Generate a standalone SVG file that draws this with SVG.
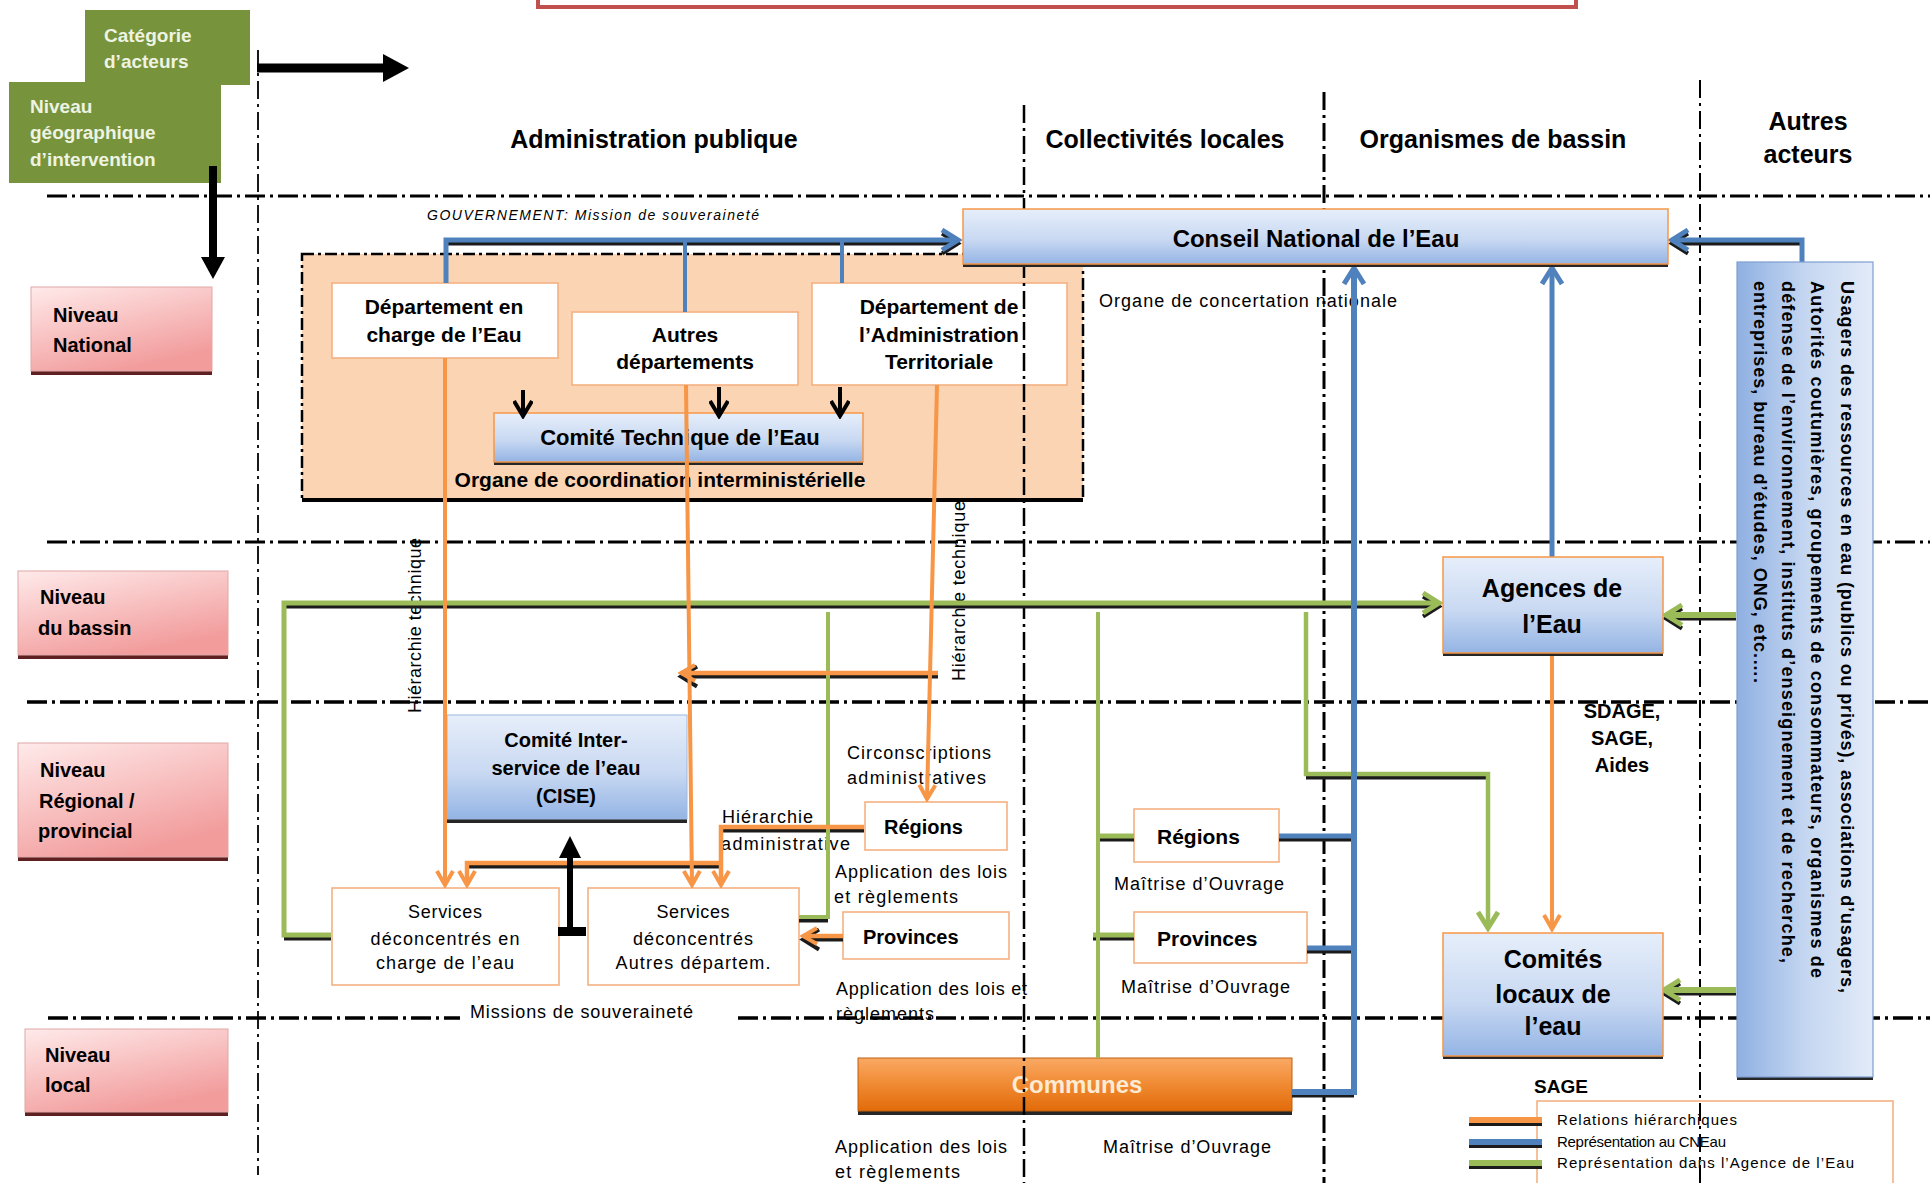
<svg xmlns="http://www.w3.org/2000/svg" width="1930" height="1183" viewBox="0 0 1930 1183">
<defs>
<style>
.b{font-family:"Liberation Sans",Arial,sans-serif;font-weight:bold;fill:#000}
.r{font-family:"Liberation Sans",Arial,sans-serif;fill:#000}
.c{text-anchor:middle}
.hw{font-family:"Liberation Sans",Arial,sans-serif;font-weight:bold;fill:#EEF3E2;font-size:19px}
.wb{fill:#fff;stroke:#F4B183;stroke-width:1.6}
.bn{fill:url(#gBlue);stroke:#F79646;stroke-width:1.5}
.pk{fill:url(#gPink);stroke:#E0A8A8;stroke-width:1}
.pks{fill:#5E2020}
.bs{fill:#262626}
.hg{fill:none;stroke:#000;stroke-width:3;stroke-dasharray:20 5 3 5}
.vg{fill:none;stroke:#000;stroke-width:2.5;stroke-dasharray:18 5 3 5}
.or{fill:none;stroke:#F79646;stroke-width:4.5}
.bl{fill:none;stroke:#4F81BD;stroke-width:5}
.gr{fill:none;stroke:#9BBB59;stroke-width:5}
.sh{fill:none;stroke:#1b1b1b;stroke-width:4}
</style>
<linearGradient id="gBlue" x1="0" y1="0" x2="0" y2="1">
<stop offset="0" stop-color="#E6EEFA"/>
<stop offset="0.55" stop-color="#C9D9F2"/>
<stop offset="1" stop-color="#94B4E4"/>
</linearGradient>
<linearGradient id="gBlueH" x1="1" y1="0" x2="0" y2="0">
<stop offset="0" stop-color="#E3EBF8"/>
<stop offset="0.5" stop-color="#C4D6F1"/>
<stop offset="1" stop-color="#8FB0E2"/>
</linearGradient>
<linearGradient id="gPink" x1="0" y1="0" x2="0.5" y2="1">
<stop offset="0" stop-color="#FFEAEA"/>
<stop offset="1" stop-color="#F29C9C"/>
</linearGradient>
<linearGradient id="gOrange" x1="0" y1="0" x2="0" y2="1">
<stop offset="0" stop-color="#F9A964"/>
<stop offset="0.5" stop-color="#F08A32"/>
<stop offset="1" stop-color="#E26B0A"/>
</linearGradient>
<marker id="aOr" markerUnits="userSpaceOnUse" viewBox="0 0 20 20" markerWidth="20" markerHeight="20" refX="17" refY="10" orient="auto"><path d="M3,2 L17,10 L3,18" fill="none" stroke="#F79646" stroke-width="4"/></marker>
<marker id="aBl" markerUnits="userSpaceOnUse" viewBox="0 0 24 24" markerWidth="24" markerHeight="24" refX="20" refY="12" orient="auto"><path d="M4,2 L20,12 L4,22" fill="none" stroke="#4F81BD" stroke-width="5"/></marker>
<marker id="aGr" markerUnits="userSpaceOnUse" viewBox="0 0 24 24" markerWidth="24" markerHeight="24" refX="20" refY="12" orient="auto"><path d="M4,2 L20,12 L4,22" fill="none" stroke="#9BBB59" stroke-width="5"/></marker>
<marker id="aSh" markerUnits="userSpaceOnUse" viewBox="0 0 24 24" markerWidth="24" markerHeight="24" refX="20" refY="12" orient="auto"><path d="M4,2 L20,12 L4,22" fill="none" stroke="#1b1b1b" stroke-width="4"/></marker>
<marker id="aBk" markerUnits="userSpaceOnUse" viewBox="0 0 20 20" markerWidth="20" markerHeight="20" refX="17" refY="10" orient="auto"><path d="M2,1 L17,10 L2,19" fill="none" stroke="#000" stroke-width="4"/></marker>
</defs>

<rect x="0" y="0" width="1930" height="1183" fill="#fff"/>

<!-- top red frame -->
<rect id="top-frame" x="538" y="-30" width="1038" height="37" fill="none" stroke="#C0504D" stroke-width="4"/>

<!-- horizontal grid -->
<g id="grid-h">
<path class="hg" d="M47,196 H1930"/>
<path class="hg" d="M47,542 H1930"/>
<path class="hg" d="M27,702 H1930" style="stroke-width:3.5"/>
<path class="hg" d="M48,1018 H460 M738,1018 H1930" style="stroke-width:3.5"/>
</g>

<!-- header boxes -->
<g id="n-categorie">
<rect x="85" y="10" width="165" height="75" fill="#77933C"/>
<text class="hw" x="104" y="42">Catégorie</text>
<text class="hw" x="104" y="68">d’acteurs</text>
</g>
<g id="n-niveau-geo">
<rect x="9" y="82" width="212" height="101" fill="#77933C"/>
<text class="hw" x="30" y="113">Niveau</text>
<text class="hw" x="30" y="139">géographique</text>
<text class="hw" x="30" y="166">d’intervention</text>
</g>
<g id="header-arrows">
<path d="M257,68 H388" stroke="#000" stroke-width="9" fill="none"/>
<polygon points="383,54 409,68 383,82" fill="#000"/>
<path d="M213,166 V262" stroke="#000" stroke-width="8" fill="none"/>
<polygon points="201,257 225,257 213,279" fill="#000"/>
</g>

<!-- column headers -->
<g id="col-headers">
<text class="b c" x="654" y="148" font-size="25">Administration publique</text>
<text class="b c" x="1165" y="148" font-size="25">Collectivités locales</text>
<text class="b c" x="1493" y="148" font-size="25">Organismes de bassin</text>
<text class="b c" x="1808" y="130" font-size="25">Autres</text>
<text class="b c" x="1808" y="163" font-size="25">acteurs</text>
</g>

<!-- coordination region -->
<g id="n-region-coordination">
<rect x="302" y="254" width="781" height="246" fill="#FBD4B4" stroke="#000" stroke-width="2.5" stroke-dasharray="12 4 3 4"/>
<path d="M302,500 H1083" stroke="#000" stroke-width="4"/>
<text class="b c" x="660" y="487" font-size="21">Organe de coordination interministérielle</text>
</g>

<!-- level boxes -->
<g id="n-niveau-national">
<rect class="pks" x="31" y="291" width="181" height="84"/>
<rect class="pk" x="31" y="287" width="181" height="84"/>
<text class="b" x="53" y="322" font-size="20">Niveau</text>
<text class="b" x="53" y="352" font-size="20">National</text>
</g>
<g id="n-niveau-bassin">
<rect class="pks" x="18" y="575" width="210" height="84"/>
<rect class="pk" x="18" y="571" width="210" height="84"/>
<text class="b" x="40" y="604" font-size="20">Niveau</text>
<text class="b" x="38" y="635" font-size="20">du bassin</text>
</g>
<g id="n-niveau-regional">
<rect class="pks" x="18" y="747" width="210" height="114"/>
<rect class="pk" x="18" y="743" width="210" height="114"/>
<text class="b" x="40" y="777" font-size="20">Niveau</text>
<text class="b" x="39" y="808" font-size="20">Régional /</text>
<text class="b" x="38" y="838" font-size="20">provincial</text>
</g>
<g id="n-niveau-local">
<rect class="pks" x="25" y="1033" width="203" height="83"/>
<rect class="pk" x="25" y="1029" width="203" height="83"/>
<text class="b" x="45" y="1062" font-size="20">Niveau</text>
<text class="b" x="45" y="1092" font-size="20">local</text>
</g>

<!-- white nodes -->
<g id="n-dept-eau">
<rect class="wb" x="332" y="283" width="226" height="75"/>
<text class="b c" x="444" y="314" font-size="21">Département en</text>
<text class="b c" x="444" y="342" font-size="21">charge de l’Eau</text>
</g>
<g id="n-autres-dept">
<rect class="wb" x="572" y="312" width="226" height="73"/>
<text class="b c" x="685" y="342" font-size="21">Autres</text>
<text class="b c" x="685" y="369" font-size="21">départements</text>
</g>
<g id="n-dept-admin">
<rect class="wb" x="812" y="283" width="255" height="102"/>
<text class="b c" x="939" y="314" font-size="21">Département de</text>
<text class="b c" x="939" y="342" font-size="21">l’Administration</text>
<text class="b c" x="939" y="369" font-size="21">Territoriale</text>
</g>
<g id="n-comite-technique">
<rect class="bs" x="494" y="416" width="369" height="49"/>
<rect class="bn" x="494" y="413" width="369" height="49"/>
<text class="b c" x="680" y="445" font-size="22">Comité Technique de l’Eau</text>
</g>
<g id="n-cise">
<rect class="bs" x="447" y="719" width="240" height="104"/>
<rect x="447" y="715" width="240" height="104" fill="url(#gBlue)" stroke="#9DB8E0" stroke-width="1"/>
<text class="b c" x="566" y="747" font-size="20">Comité Inter-</text>
<text class="b c" x="566" y="775" font-size="20">service de l’eau</text>
<text class="b c" x="566" y="803" font-size="20">(CISE)</text>
</g>
<g id="n-services-eau">
<rect class="wb" x="332" y="888" width="227" height="97"/>
<text class="r c" x="445" y="918" font-size="18" textLength="74">Services</text>
<text class="r c" x="445" y="945" font-size="18" textLength="149">déconcentrés en</text>
<text class="r c" x="445" y="969" font-size="18" textLength="138">charge de l’eau</text>
</g>
<g id="n-services-autres">
<rect class="wb" x="588" y="888" width="211" height="97"/>
<text class="r c" x="693" y="918" font-size="18" textLength="73">Services</text>
<text class="r c" x="693" y="945" font-size="18" textLength="120">déconcentrés</text>
<text class="r c" x="693" y="969" font-size="18" textLength="155">Autres départem.</text>
</g>
<g id="n-regions-admin">
<rect class="wb" x="865" y="802" width="142" height="48"/>
<text class="b" x="884" y="834" font-size="20">Régions</text>
</g>
<g id="n-provinces-admin">
<rect class="wb" x="843" y="912" width="166" height="47"/>
<text class="b" x="863" y="944" font-size="20">Provinces</text>
</g>
<g id="n-regions-coll">
<rect class="wb" x="1134" y="809" width="145" height="53"/>
<text class="b" x="1157" y="844" font-size="21">Régions</text>
</g>
<g id="n-provinces-coll">
<rect class="wb" x="1134" y="912" width="173" height="51"/>
<text class="b" x="1157" y="946" font-size="21">Provinces</text>
</g>
<g id="n-communes">
<rect class="bs" x="858" y="1062" width="434" height="53"/>
<rect x="858" y="1058" width="434" height="53" fill="url(#gOrange)" stroke="#C0600C" stroke-width="1"/>
<text class="b c" x="1077" y="1093" font-size="24" style="fill:#FDEBD3">Communes</text>
</g>
<g id="n-legend">
<rect x="1537" y="1101" width="356" height="95" fill="#fff" stroke="#F4B183" stroke-width="1.6"/>
<text class="r" x="1557" y="1125" font-size="15" textLength="180">Relations hiérarchiques</text>
<text class="r" x="1557" y="1147" font-size="15" textLength="169">Représentation au CNEau</text>
<text class="r" x="1557" y="1168" font-size="15" textLength="297">Représentation dans l’Agence de l’Eau</text>
</g>

<!-- vertical grid -->
<g id="grid-v">
<path class="vg" d="M258,50 V1175" style="stroke-width:1.8"/>
<path class="vg" d="M1024,105 V1183"/>
<path class="vg" d="M1324,92 V1183" style="stroke-width:3"/>
<path class="vg" d="M1700,80 V1183" style="stroke-width:2"/>
</g>

<!-- labels -->
<g id="labels">
<text class="r" x="427" y="220" font-size="14" font-style="italic" textLength="332">GOUVERNEMENT: Mission de souveraineté</text>
<text class="r" x="1099" y="307" font-size="18" textLength="298">Organe de concertation nationale</text>
<text class="r" transform="translate(421,713) rotate(-90)" font-size="18" textLength="175">Hiérarchie technique</text>
<text class="r" transform="translate(965,681) rotate(-90)" font-size="18" textLength="180">Hiérarchie technique</text>
<text class="r" x="847" y="759" font-size="18" textLength="144">Circonscriptions</text>
<text class="r" x="847" y="784" font-size="18" textLength="139">administratives</text>
<text class="r" x="722" y="823" font-size="18" textLength="91">Hiérarchie</text>
<text class="r" x="721" y="850" font-size="18" textLength="129">administrative</text>
<text class="r" x="835" y="878" font-size="18" textLength="172">Application des lois</text>
<text class="r" x="834" y="903" font-size="18" textLength="124">et règlements</text>
<text class="r" x="836" y="995" font-size="18" textLength="191">Application des lois et</text>
<text class="r" x="836" y="1020" font-size="18" textLength="98">règlements</text>
<text class="r" x="470" y="1018" font-size="18" textLength="223">Missions de souveraineté</text>
<text class="r" x="1114" y="890" font-size="18" textLength="170">Maîtrise d’Ouvrage</text>
<text class="r" x="1121" y="993" font-size="18" textLength="169">Maîtrise d’Ouvrage</text>
<text class="r" x="835" y="1153" font-size="18" textLength="172">Application des lois</text>
<text class="r" x="835" y="1178" font-size="18" textLength="125">et règlements</text>
<text class="r" x="1103" y="1153" font-size="18" textLength="168">Maîtrise d’Ouvrage</text>
<text class="b c" x="1622" y="718" font-size="20">SDAGE,</text>
<text class="b c" x="1622" y="745" font-size="20">SAGE,</text>
<text class="b c" x="1622" y="772" font-size="20">Aides</text>
<text class="b c" x="1561" y="1093" font-size="19">SAGE</text>
</g>

<!-- connectors -->
<g id="connectors">
<g transform="translate(0,3.5)">
<path class="sh" d="M938,673 H681" marker-end="url(#aSh)"/>
<path class="sh" d="M864,827 H721"/>
<path class="sh" d="M721,863 H467"/>
<path class="sh" d="M843,936 H803" marker-end="url(#aSh)"/>
<path class="sh" d="M446,240 H958" marker-end="url(#aSh)"/>
<path class="sh" d="M1292,1092 H1354"/>
<path class="sh" d="M1279,836 H1354"/>
<path class="sh" d="M1307,948 H1354"/>
<path class="sh" d="M1802,240 H1672" marker-end="url(#aSh)"/>
<path class="sh" d="M331,935 H284 M284,603 H1439" marker-end="url(#aSh)"/>
<path class="sh" d="M799,917 H828"/>
<path class="sh" d="M1098,836 H1134"/>
<path class="sh" d="M1093,935 H1134"/>
<path class="sh" d="M1306,774 H1488"/>
<path class="sh" d="M1736,615 H1666" marker-end="url(#aSh)"/>
<path class="sh" d="M1736,990 H1664" marker-end="url(#aSh)"/>
<path class="sh" d="M1469,1120 H1542" style="stroke-width:5"/>
<path class="sh" d="M1469,1142 H1542" style="stroke-width:5"/>
<path class="sh" d="M1469,1163 H1542" style="stroke-width:5"/>
</g>
<!-- green -->
<path class="gr" d="M331,935 H284 V603 H1439" marker-end="url(#aGr)"/>
<path class="gr" d="M799,917 H828 V612" style="stroke-width:4"/>
<path class="gr" d="M1098,612 V1058" style="stroke-width:4"/>
<path class="gr" d="M1098,836 H1134"/>
<path class="gr" d="M1093,935 H1134"/>
<path class="gr" d="M1306,612 V774 H1488 V928" style="stroke-width:4.5" marker-end="url(#aGr)"/>
<path class="gr" d="M1736,615 H1666" style="stroke-width:6" marker-end="url(#aGr)"/>
<path class="gr" d="M1736,990 H1664" style="stroke-width:6" marker-end="url(#aGr)"/>
<!-- orange -->
<path class="or" d="M445,358 V885" style="stroke-width:4" marker-end="url(#aOr)"/>
<path class="or" d="M686,385 L692,885" style="stroke-width:4" marker-end="url(#aOr)"/>
<path class="or" d="M937,385 L927,799" style="stroke-width:4" marker-end="url(#aOr)"/>
<path class="or" d="M938,673 H681" marker-end="url(#aOr)"/>
<path class="or" d="M864,827 H721 V885" marker-end="url(#aOr)"/>
<path class="or" d="M721,863 H467 V885" marker-end="url(#aOr)"/>
<path class="or" d="M843,936 H803" marker-end="url(#aOr)"/>
<path class="or" d="M1552,653 V929" style="stroke-width:4" marker-end="url(#aOr)"/>
<!-- blue -->
<path class="bl" d="M446,283 V240 H958" marker-end="url(#aBl)"/>
<path class="bl" d="M685,240 V312" style="stroke-width:4"/>
<path class="bl" d="M842,240 V283" style="stroke-width:4"/>
<path class="bl" d="M1292,1092 H1354 V268" style="stroke-width:6" marker-end="url(#aBl)"/>
<path class="bl" d="M1279,836 H1354"/>
<path class="bl" d="M1307,948 H1354"/>
<path class="bl" d="M1552,557 V268" style="stroke-width:5" marker-end="url(#aBl)"/>
<path class="bl" d="M1802,262 V240 H1672" marker-end="url(#aBl)"/>
<!-- black -->
<path d="M523,390 V416" stroke="#000" stroke-width="4" fill="none" marker-end="url(#aBk)"/>
<path d="M719,387 V416" stroke="#000" stroke-width="4" fill="none" marker-end="url(#aBk)"/>
<path d="M840,387 V416" stroke="#000" stroke-width="4" fill="none" marker-end="url(#aBk)"/>
<path d="M570,930 V855" stroke="#000" stroke-width="6" fill="none"/>
<polygon points="559,858 581,858 570,836" fill="#000"/>
<rect x="558" y="927" width="28" height="9" fill="#000"/>
<!-- legend lines -->
<path d="M1469,1120 H1542" stroke="#F79646" stroke-width="6"/>
<path d="M1469,1142 H1542" stroke="#4F81BD" stroke-width="6"/>
<path d="M1469,1163 H1542" stroke="#9BBB59" stroke-width="6"/>
</g>

<!-- top nodes -->
<g id="n-conseil">
<rect class="bs" x="963" y="212" width="705" height="55"/>
<rect class="bn" x="963" y="209" width="705" height="55"/>
<text class="b c" x="1316" y="247" font-size="24">Conseil National de l’Eau</text>
</g>
<g id="n-agences">
<rect class="bs" x="1443" y="560" width="220" height="96"/>
<rect class="bn" x="1443" y="557" width="220" height="96"/>
<text class="b c" x="1552" y="597" font-size="25">Agences de</text>
<text class="b c" x="1552" y="633" font-size="25">l’Eau</text>
</g>
<g id="n-comites-locaux">
<rect class="bs" x="1443" y="936" width="220" height="123"/>
<rect class="bn" x="1443" y="933" width="220" height="123"/>
<text class="b c" x="1553" y="968" font-size="25">Comités</text>
<text class="b c" x="1553" y="1003" font-size="25">locaux de</text>
<text class="b c" x="1553" y="1035" font-size="25">l’eau</text>
</g>
<g id="n-usagers">
<rect class="bs" x="1737" y="265" width="136" height="815"/>
<rect x="1737" y="262" width="136" height="815" fill="url(#gBlueH)" stroke="#7F9FD0" stroke-width="1.2"/>
<text class="b" transform="translate(1841,281) rotate(90)" font-size="18" textLength="712">Usagers des ressources en eau (publics ou privés), associations d’usagers,</text>
<text class="b" transform="translate(1811,281) rotate(90)" font-size="18" textLength="697">Autorités coutumières, groupements de consommateurs, organismes de</text>
<text class="b" transform="translate(1782,281) rotate(90)" font-size="18" textLength="682">défense de l’environnement, instituts d’enseignement et de recherche,</text>
<text class="b" transform="translate(1754,281) rotate(90)" font-size="18" textLength="402">entreprises, bureau d’études, ONG, etc.….</text>
</g>
</svg>
